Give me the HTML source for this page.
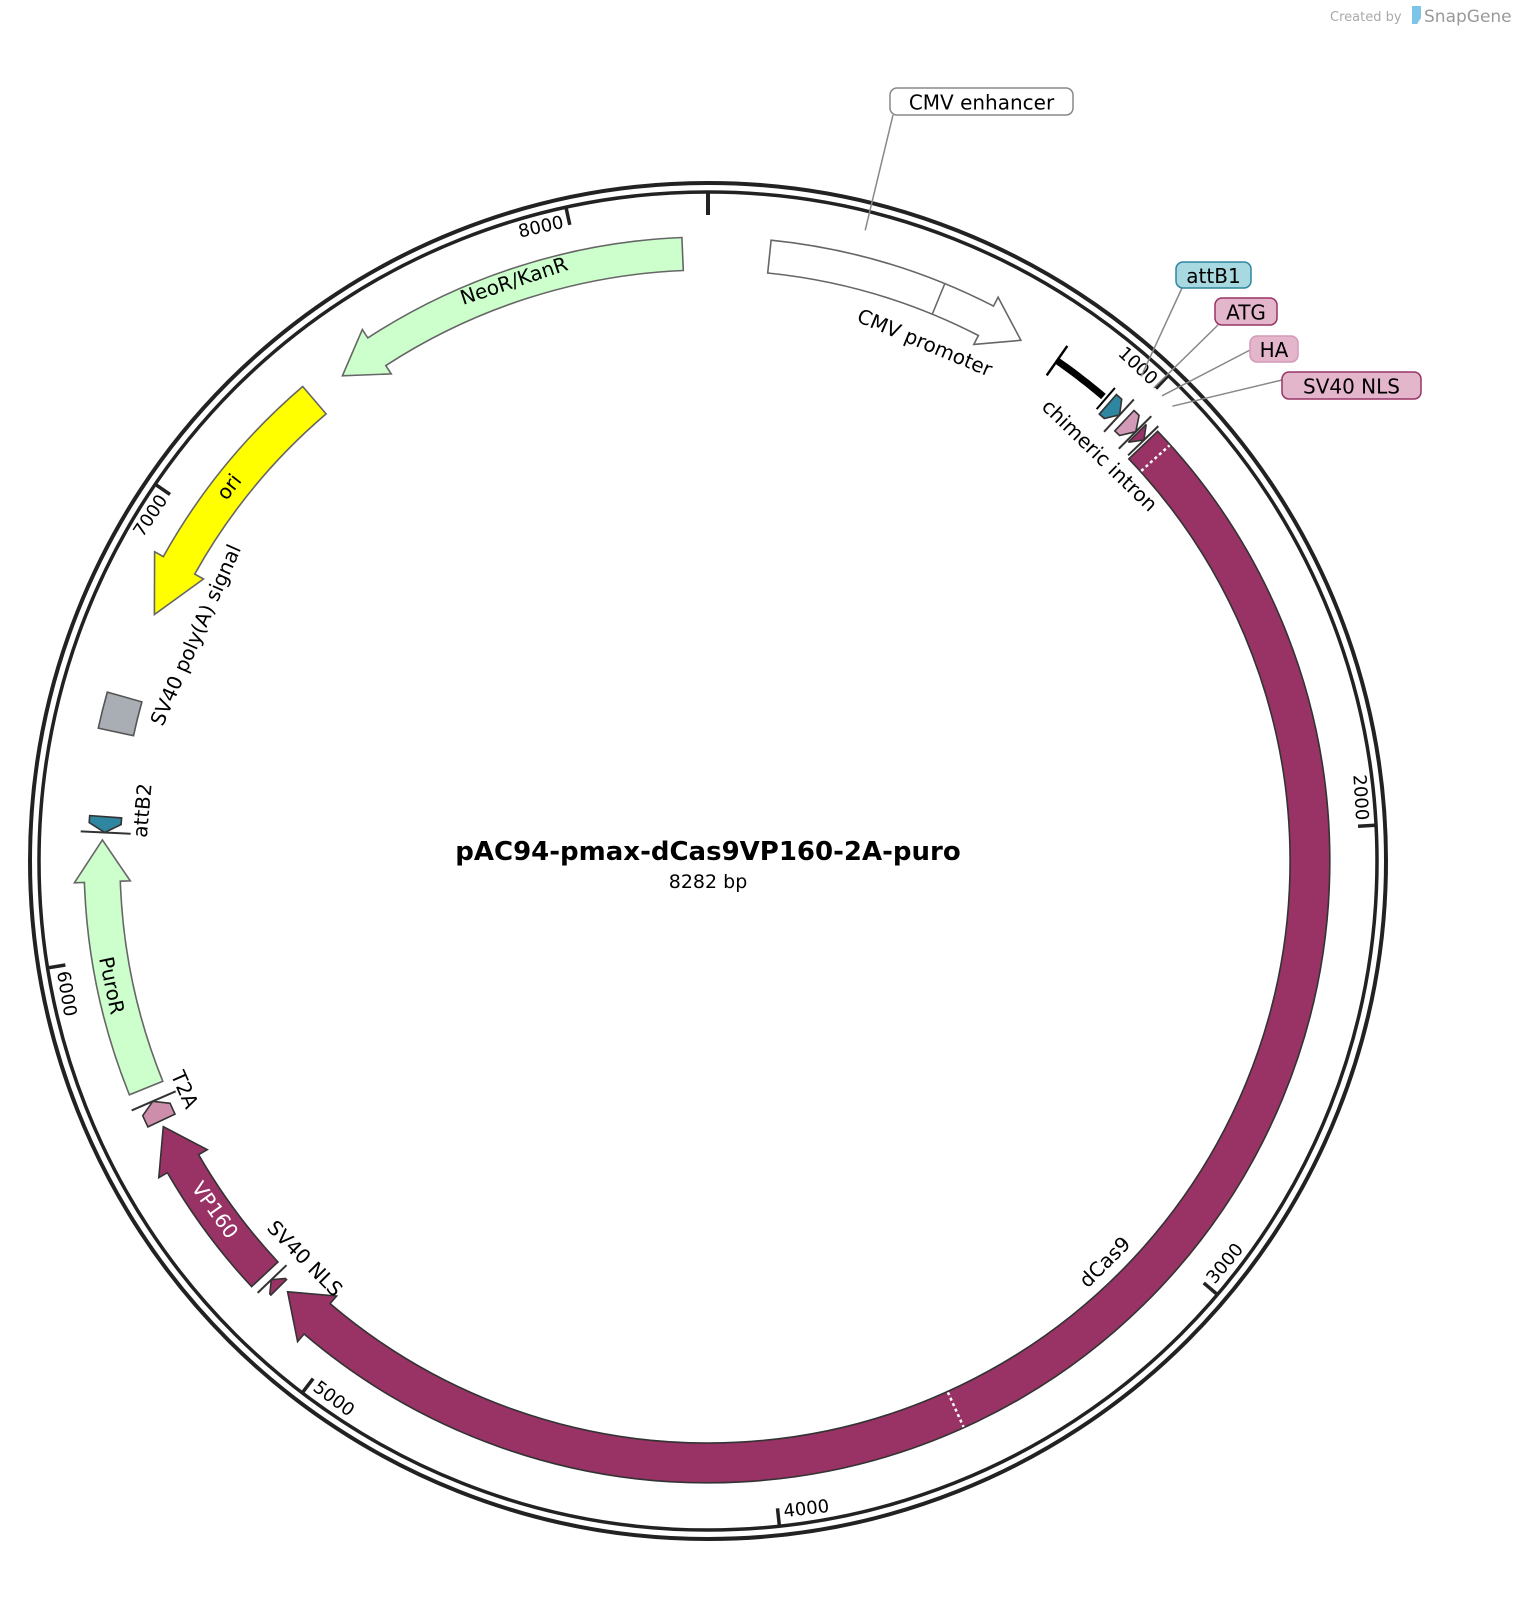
<!DOCTYPE html>
<html><head><meta charset="utf-8"><style>
html,body{margin:0;padding:0;background:#fff}
svg{display:block}
text{font-family:"DejaVu Sans","Liberation Sans",sans-serif}
</style></head><body>
<svg id="s" width="1528" height="1610" viewBox="0 0 1528 1610" xmlns="http://www.w3.org/2000/svg">
<text x="1330" y="21" font-size="13" fill="#aaa" font-family="Liberation Sans,sans-serif">Created by</text>
<path d="M1412 6 h9 v12 l-4 6 h-5z" fill="#7cc4e8"/>
<text x="1424" y="22" font-size="17" fill="#999" font-family="Liberation Sans,sans-serif">SnapGene</text>
<circle cx="708" cy="861" r="678" fill="none" stroke="#222" stroke-width="4"/>
<circle cx="708" cy="861" r="669" fill="none" stroke="#222" stroke-width="3.5"/>
<text x="708" y="860" font-size="26" font-weight="bold" text-anchor="middle">pAC94-pmax-dCas9VP160-2A-puro</text>
<text x="708" y="888" font-size="19" text-anchor="middle">8282 bp</text>
<g id="g"></g>
</svg>
<script>
var cx=708,cy=861,NS="http://www.w3.org/2000/svg",g=document.getElementById('g');
function P(a,r){var t=a*Math.PI/180;return [cx+r*Math.sin(t),cy-r*Math.cos(t)];}
function f(p){return p[0].toFixed(1)+","+p[1].toFixed(1);}
function el(n,at,txt){var e=document.createElementNS(NS,n);for(var k in at)e.setAttribute(k,at[k]);if(txt)e.textContent=txt;g.appendChild(e);return e;}
function arc(a1,a2,r){var lg=Math.abs(a2-a1)>180?1:0,sw=a2>a1?1:0;return "A"+r+","+r+" 0 "+lg+","+sw+" "+f(P(a2,r));}
function arrow(a1,a2,r1,r2,dir,hp,fill,stroke,ext){
 ext=ext===undefined?9:ext;var h=hp/((r1+r2)/2)*180/Math.PI,rm=(r1+r2)/2,d;
 if(Math.abs(a2-a1)<h)h=Math.abs(a2-a1);
 if(dir>0){var b=a2-h;d="M"+f(P(a1,r2))+arc(a1,b,r2)+"L"+f(P(b,r2+ext))+"L"+f(P(a2,rm))+"L"+f(P(b,r1-ext))+"L"+f(P(b,r1))+arc(b,a1,r1)+"Z";}
 else if(dir<0){var b=a1+h;d="M"+f(P(a2,r2))+arc(a2,b,r2)+"L"+f(P(b,r2+ext))+"L"+f(P(a1,rm))+"L"+f(P(b,r1-ext))+"L"+f(P(b,r1))+arc(b,a2,r1)+"Z";}
 else{d="M"+f(P(a1,r2))+arc(a1,a2,r2)+"L"+f(P(a2,r1))+arc(a2,a1,r1)+"Z";}
 el("path",{d:d,fill:fill,stroke:stroke||"#444","stroke-width":1.6,"stroke-linejoin":"miter"});
}
function line(a,r1,r2,c,w,extra){var p=P(a,r1),q=P(a,r2);var at={x1:p[0],y1:p[1],x2:q[0],y2:q[1],stroke:c,"stroke-width":w};for(var k in extra)at[k]=extra[k];el("line",at);}
function tiny(a1,a2,r1,r2,dir,fill){arrow(a1,a2,r1,r2,dir,9,fill,"#333",0);var t=dir>0?a2:a1;line(t,r1-10,r2+8,"#333",2);}
function rtext(a,r,s,size,rotOverride,anchor,fill){
 var p=P(a,r),rot=(a%360+360)%360;rot=(rot>90&&rot<270)?rot-180:rot;if(rot>180)rot-=360;
 el("text",{x:p[0],y:p[1],"font-size":size||20,"text-anchor":anchor||"middle","dominant-baseline":"central",fill:fill||"#000",transform:"rotate("+rot.toFixed(2)+" "+p[0].toFixed(1)+" "+p[1].toFixed(1)+")"},s);
}
line(0,646,670,"#222",4);
var N=8282;
for(var i=1;i<=8;i++){var a=i*1000/N*360;line(a,651,670,"#222",3.5);
 var rot=(a>90&&a<270);rtext(a-0.5,655,String(i*1000),18,null,rot?"start":"end");}
var R1=588,R2=624;
arrow(5.8,31,R1+3,R2,1,40,"#fff","#666",10);
line(22.3,R1+3,R2,"#666",1.5);
arrow(323,357.6,R1+3,R2,-1,42,"#ccffcc","#666",10);
arrow(294,319.5,R1,R2,-1,55,"#ffff00","#666",10);
arrow(282.3,285.7,R1,R2,0,0,"#a9adb4","#555");
tiny(272.7,274.2,588,620,-1,"#2e86a0");
arrow(248,272,R1,R2,1,42,"#ccffcc","#666",10);
tiny(244.6,246.6,590,620,1,"#cc8eaa");
arrow(227,244,R1,R2,1,42,"#993366","#333",10);
tiny(225.2,226.2,594,616,1,"#993366");
arrow(46.3,224.3,R1-6,R2-2,1,40,"#993366","#333",10);
line(48,R1-5,R2-3,"#fff",2.5,{"stroke-dasharray":"3,3"});
line(155.7,R1-5,R2-3,"#fff",2.5,{"stroke-dasharray":"3,3"});
(function(){var pts=[];for(var a=34.9;a<=40.6;a+=0.5)pts.push(f(P(a,610)));el("polyline",{points:pts.join(" "),fill:"none",stroke:"#000","stroke-width":7});})();
line(34.9,592,628,"#000",2.5);line(40.7,596,624,"#000",2);
tiny(41.2,42.7,594,620,1,"#2e86a0");
tiny(43.4,44.9,592,620,1,"#d39ab8");
tiny(45.1,46.0,594,618,1,"#993366");
rtext(22.7,562,"CMV promoter",20);
rtext(44,564,"chimeric intron",20);
rtext(341.5,612,"NeoR/KanR",20);
rtext(308,608,"ori",20);
rtext(293.8,560,"SV40 poly(A) signal",20);
rtext(275.1,568,"attB2",20);
rtext(258.2,609,"PuroR",20);
rtext(246.4,571,"T2A",20);
rtext(234.7,604,"VP160",20,null,null,"#fff");
rtext(225.4,566,"SV40 NLS",20);
rtext(135.3,564,"dCas9",20);
function callout(x,y,w,h,label,fill,stroke,lx,ly,ang){
 var p=P(ang,650);el("polyline",{points:lx+","+ly+" "+f(p),fill:"none",stroke:"#888","stroke-width":1.5});
 el("rect",{x:x,y:y,width:w,height:h,rx:7,fill:fill,stroke:stroke,"stroke-width":1.5});
 el("text",{x:x+w/2,y:y+h/2+1,"font-size":20,"text-anchor":"middle","dominant-baseline":"central"},label);
}
callout(890,88,183,27,"CMV enhancer","#fff","#888",893,115,14);
callout(1176,262,75,26,"attB1","#a8d8e0","#2e86a0",1182,288,41.8);
callout(1215,298,62,27,"ATG","#e4b6cc","#993366",1218,325,43.3);
callout(1250,336,48,26,"HA","#e4b6cc","#d39ab8",1252,349,44.3);
callout(1282,372,139,27,"SV40 NLS","#e4b6cc","#993366",1282,380,45.6);
</script>
</body></html>
